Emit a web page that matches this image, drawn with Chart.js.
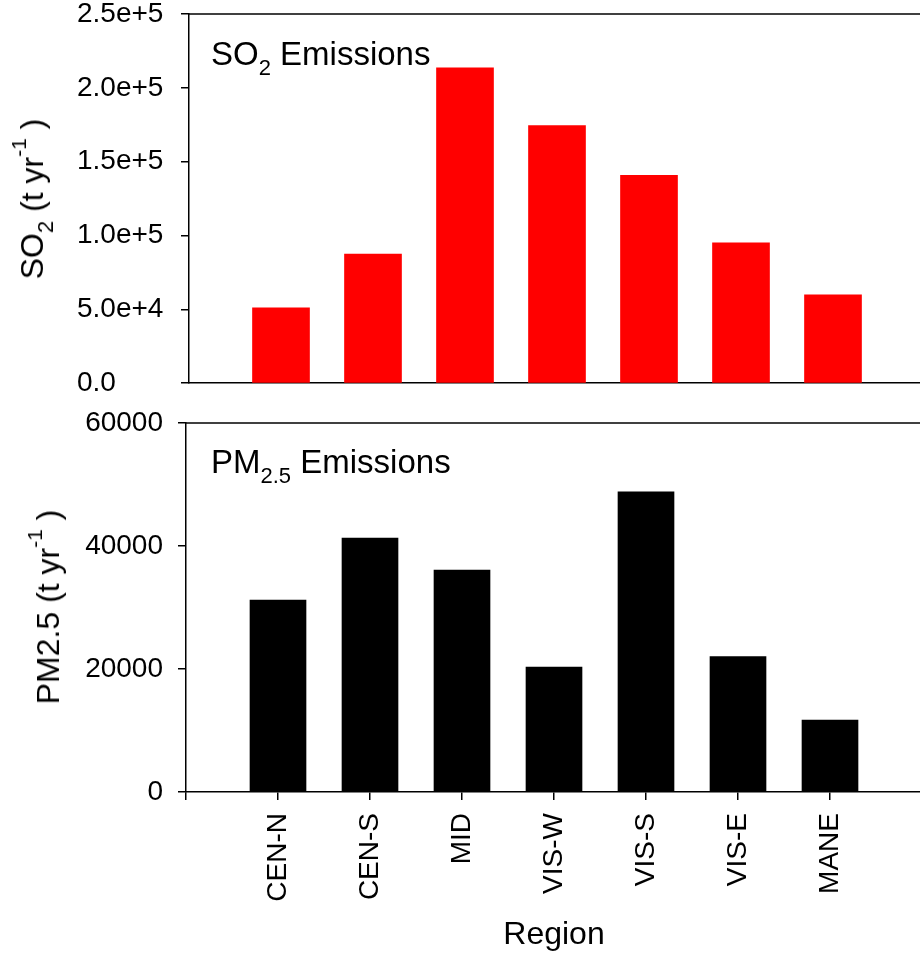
<!DOCTYPE html>
<html>
<head>
<meta charset="utf-8">
<script src="https://cdn.jsdelivr.net/npm/chart.js@4.4.1/dist/chart.umd.min.js"></script>
<style>
  body { margin:0; width:920px; height:961px; overflow:hidden; background:#fff; position:relative;
         font-family:"Liberation Sans", Arial, sans-serif; color:#000; }
  .wrap { position:absolute; left:0; }
  .lbl { position:absolute; font-size:33px; line-height:32px; white-space:nowrap; }
  .ytitle { position:absolute; font-size:32px; line-height:32px; white-space:nowrap;
            transform:translate(-50%,-50%) rotate(-90deg); }
  .dn { font-size:22px; position:relative; top:10px; }
  .up { font-size:21px; position:relative; top:-17px; }
</style>
</head>
<body>
<div class="wrap" style="top:-20px"><canvas id="so2" width="940" height="435"></canvas></div>
<div class="wrap" style="top:390px"><canvas id="pm" width="940" height="571"></canvas></div>
<div class="lbl" style="left:211px; top:38px">SO<span class="dn">2</span> Emissions</div>
<div class="lbl" style="left:211px; top:446px">PM<span class="dn">2.5</span> Emissions</div>
<div class="ytitle" style="left:34px; top:199px">SO<span class="dn">2</span> (t yr<span class="up">-1</span> )</div>
<div class="ytitle" style="left:50px; top:607px">PM2.5 (t yr<span class="up">-1</span> )</div>
<script>
  const regions = ['CEN-N', 'CEN-S', 'MID', 'VIS-W', 'VIS-S', 'VIS-E', 'MANE'];
  const so2 = [51000, 87400, 213500, 174400, 140800, 95100, 59800];
  const pm25 = [31200, 41300, 36100, 20300, 48800, 22000, 11700];
  const so2Ticks = [0, 50000, 100000, 150000, 200000, 250000];
  const pmTicks = [0, 20000, 40000, 60000];

  Chart.defaults.font.family = '"Liberation Sans", Arial, sans-serif';
  Chart.defaults.color = '#000';

  // empty slot on each side so the bars sit at 1..7 of a 0..8 axis
  const labels = [''].concat(regions, ['']);
  const pad = arr => [null].concat(arr, [null]);

  // top frame line of each panel
  const frameTop = {
    id: 'frameTop',
    afterDraw(chart) {
      const { ctx, chartArea } = chart;
      ctx.save();
      ctx.strokeStyle = '#000';
      ctx.lineWidth = 1.5;
      ctx.beginPath();
      ctx.moveTo(chartArea.left, chartArea.top);
      ctx.lineTo(chart.width, chartArea.top);
      ctx.stroke();
      ctx.restore();
    }
  };

  const tickGrid = { drawOnChartArea: false, drawTicks: true, tickLength: 8, color: '#000', lineWidth: 1.5, offset: false };
  const axisBorder = { display: true, color: '#000', width: 1.5 };

  function plotPanel(id, data, color, yTicks, yMax, opts) {
    new Chart(document.getElementById(id), {
      type: 'bar',
      data: {
        labels,
        datasets: [{ data: pad(data), backgroundColor: color, borderWidth: 0, barThickness: opts.barWidth }]
      },
      options: {
        responsive: false,
        animation: false,
        devicePixelRatio: 1,
        layout: { padding: opts.padding },
        plugins: { legend: { display: false }, tooltip: { enabled: false } },
        scales: {
          x: Object.assign({
            offset: false,
            z: 1,
            border: axisBorder,
            afterFit: s => { s.height = opts.xHeight; s.paddingLeft = 0; s.paddingRight = 0; }
          }, opts.x),
          y: {
            min: 0,
            max: yMax,
            border: axisBorder,
            grid: tickGrid,
            afterBuildTicks: s => { s.ticks = yTicks.map(v => ({ value: v })); },
            afterFit: s => { s.width = opts.yWidth; },
            ticks: {
              font: { size: 28 },
              padding: 15,
              crossAlign: opts.crossAlign,
              callback: opts.fmt
            }
          }
        }
      },
      plugins: [frameTop]
    });
  }

  plotPanel('so2', so2, '#ff0000', so2Ticks, 250000, {
    padding: { left: 77, top: 34, right: 15, bottom: 23 },
    yWidth: 112,
    xHeight: 0,
    barWidth: 57,
    crossAlign: 'far',
    fmt: v => v === 0 ? '0.0' : v.toExponential(1),
    x: { grid: { display: false, drawTicks: false }, ticks: { display: false } }
  });

  plotPanel('pm', pm25, '#000000', pmTicks, 60000, {
    padding: { left: 66, top: 33, right: 18, bottom: 0 },
    yWidth: 120,
    xHeight: 169,
    barWidth: 56,
    crossAlign: 'near',
    fmt: v => String(v),
    x: {
      grid: tickGrid,
      ticks: { font: { size: 28 }, padding: 13, autoSkip: false, minRotation: 90, maxRotation: 90 },
      title: { display: true, text: 'Region', font: { size: 32 }, padding: { top: 0, bottom: 7 } }
    }
  });
</script>
</body>
</html>
